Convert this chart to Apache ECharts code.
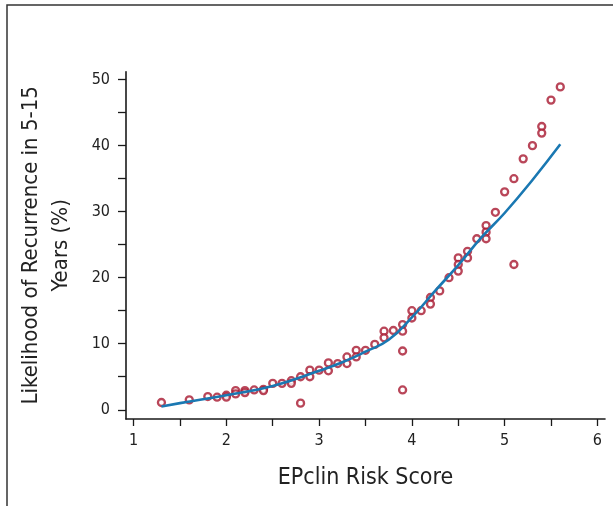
<!DOCTYPE html>
<html>
<head>
<meta charset="utf-8">
<script src="https://cdn.jsdelivr.net/npm/echarts@6/dist/echarts.min.js"></script>
<style>
    html, body { margin: 0; padding: 0; background: #fff; }
    #main { width: 613px; height: 506px; }
</style>
</head>
<body>
<div id="main"></div>
<script>
// observed points (EPclin score, % recurrence)
var riskScore = [1.3, 1.6, 1.8, 1.9, 2.0, 2.0, 2.1, 2.1, 2.2, 2.2, 2.3, 2.4, 2.4, 2.5, 2.6, 2.7, 2.7, 2.8, 2.8,
    2.9, 2.9, 3.0, 3.1, 3.1, 3.2, 3.3, 3.3, 3.4, 3.4, 3.5, 3.6, 3.7, 3.7, 3.8, 3.9, 3.9, 3.9, 3.9,
    4.0, 4.0, 4.1, 4.2, 4.2, 4.3, 4.4, 4.5, 4.5, 4.5, 4.6, 4.6, 4.7, 4.8, 4.8, 4.8, 4.9, 5.0,
    5.1, 5.1, 5.2, 5.3, 5.4, 5.4, 5.5, 5.6];
var recurrence = [1.1, 1.5, 2.0, 1.9, 2.2, 1.9, 2.9, 2.4, 2.9, 2.6, 3.0, 3.1, 2.9, 4.0, 4.0, 4.4, 4.0, 1.0, 5.0,
    6.0, 5.0, 6.0, 7.1, 5.9, 7.0, 8.0, 7.0, 9.0, 8.0, 9.0, 9.9, 11.9, 10.9, 12.0, 12.9, 11.9, 8.9, 3.0,
    15.0, 13.9, 15.0, 17.0, 16.0, 18.0, 20.0, 23.0, 22.0, 21.0, 24.0, 23.0, 25.9, 27.9, 26.9, 25.9, 29.9, 33.0,
    35.0, 22.0, 38.0, 40.0, 42.9, 41.9, 46.9, 48.9];

// fitted curve
var fitX = [1.3, 1.5, 2.0, 2.5, 3.0, 3.25, 3.5, 3.75, 4.0, 4.25, 4.5, 4.75, 5.0, 5.3, 5.6];
var fitY = [0.5, 1.0, 2.2, 3.6, 5.9, 7.2, 8.8, 10.6, 14.0, 18.0, 21.9, 26.1, 29.8, 34.8, 40.2];

var xTickMin = 1, xTickMax = 6, xTickStep = 0.5;
var yTickMin = 0, yTickMax = 50, yTickStep = 5;

var FONT = "'DejaVu Sans Condensed', 'Liberation Sans', sans-serif";

// layout (pixels)
var W = 613, H = 506;
var axL = 126, axR = 605, axT = 71.7, axB = 419;
var x0 = 0.918, x1 = 6.082, y0 = -1.4, y1 = 51.2;
var pxX = (axR - axL) / (x1 - x0), pxY = (axB - axT) / (y1 - y0);
var tickL = axL + (xTickMin - x0) * pxX, tickR = axL + (xTickMax - x0) * pxX;
var tickT = axB - (yTickMax - y0) * pxY, tickB = axB - (yTickMin - y0) * pxY;

var pts = riskScore.map(function (v, i) { return [v, recurrence[i]]; });
var fit = fitX.map(function (v, i) { return [v, fitY[i]]; });

var chart = echarts.init(document.getElementById('main'));
chart.setOption({
    animation: false,
    backgroundColor: '#fff',
    grid: [
        { left: axL, right: W - axR, top: axT, bottom: H - axB },
        { left: tickL, right: W - tickR, top: tickT, bottom: H - tickB }
    ],
    xAxis: [{
        gridIndex: 0, type: 'value', min: x0, max: x1,
        axisLine: { show: true, onZero: false, lineStyle: { color: '#1a1a1a', width: 1.6 } },
        axisTick: { show: false }, axisLabel: { show: false }, splitLine: { show: false },
        name: 'EPclin Risk Score', nameLocation: 'middle', nameGap: 48,
        nameTextStyle: { fontFamily: FONT, fontSize: 23, color: '#222' }
    }, {
        gridIndex: 1, type: 'value', min: xTickMin, max: xTickMax, interval: xTickStep,
        offset: axB - tickB,
        axisLine: { show: false, onZero: false },
        axisTick: { show: true, length: 7, lineStyle: { color: '#1a1a1a', width: 1.3 } },
        axisLabel: {
            margin: 14, fontFamily: FONT, fontSize: 16, color: '#222',
            formatter: function (v) { return Math.abs(v - Math.round(v)) < 1e-6 ? String(Math.round(v)) : ''; }
        },
        splitLine: { show: false }
    }],
    yAxis: [{
        gridIndex: 0, type: 'value', min: y0, max: y1,
        axisLine: { show: true, onZero: false, lineStyle: { color: '#1a1a1a', width: 1.6 } },
        axisTick: { show: false }, axisLabel: { show: false }, splitLine: { show: false },
        name: 'Likelihood of Recurrence in 5-15\nYears (%)', nameLocation: 'middle', nameGap: 50,
        nameRotate: 90,
        nameTextStyle: { fontFamily: FONT, fontSize: 22, lineHeight: 30, color: '#222' }
    }, {
        gridIndex: 1, type: 'value', min: yTickMin, max: yTickMax, interval: yTickStep,
        offset: tickL - axL,
        axisLine: { show: false, onZero: false },
        axisTick: { show: true, length: 8, lineStyle: { color: '#1a1a1a', width: 1.3 } },
        axisLabel: {
            margin: 16, fontFamily: FONT, fontSize: 16, color: '#222',
            formatter: function (v) { return v % 10 === 0 ? String(v) : ''; }
        },
        splitLine: { show: false }
    }],
    graphic: [{
        type: 'polyline', silent: true,
        shape: { points: [[7, H], [7, 5], [W, 5]] },
        style: { stroke: '#333', lineWidth: 1.5, fill: null }
    }],
    series: [{
        type: 'scatter', xAxisIndex: 0, yAxisIndex: 0,
        data: pts, symbol: 'circle', symbolSize: 7,
        itemStyle: { color: '#fff', borderColor: '#a8182f', borderWidth: 2.3 },
        z: 3
    }, {
        type: 'line', xAxisIndex: 0, yAxisIndex: 0,
        data: fit, smooth: true, showSymbol: false,
        lineStyle: { color: '#1a78b2', width: 2.6 },
        z: 4
    }]
});
</script>
</body>
</html>
